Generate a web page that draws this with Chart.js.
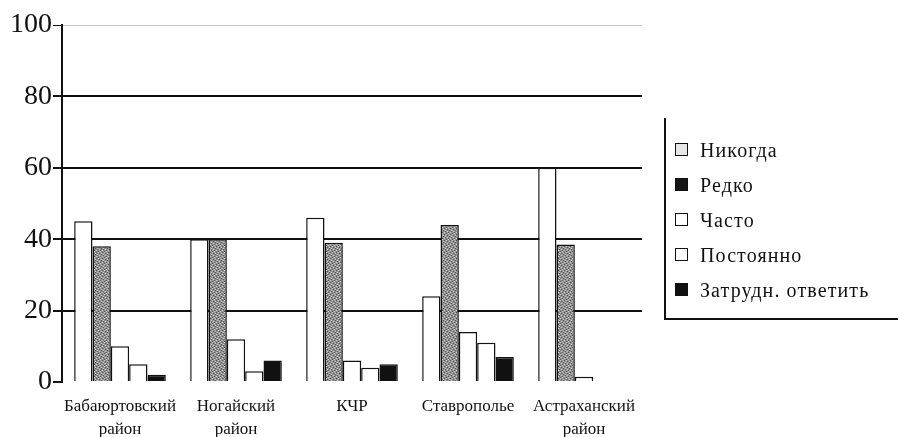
<!DOCTYPE html>
<html>
<head>
<meta charset="utf-8">
<script src="https://cdn.jsdelivr.net/npm/chart.js@4/dist/chart.umd.min.js"></script>
<style>
  html, body { margin: 0; padding: 0; background: #fff; }
  #wrap { position: relative; width: 903px; height: 437px; overflow: hidden; background: #fff; }
  #c { position: absolute; left: 0; top: 0; }
  #legend {
    position: absolute; left: 664px; top: 118px; width: 234px; height: 202px;
    border-left: 2px solid #111; border-bottom: 2px solid #111; box-sizing: border-box;
    font-family: "Liberation Serif", "DejaVu Serif", serif; font-size: 20px; color: #111;
    letter-spacing: 1.1px;
  }
  .item { position: absolute; left: 0; height: 24px; line-height: 24px; white-space: nowrap; }
  .box { position: absolute; left: 9px; top: 5px; width: 11px; height: 11px; border: 1.5px solid #111; box-sizing: content-box; }
  .txt { position: absolute; left: 34px; top: 0; }
</style>
</head>
<body>
<div id="wrap">
  <canvas id="c" width="903" height="437"></canvas>
  <div id="legend"></div>
</div>
<script>
const categories = [['Бабаюртовский', 'район'], ['Ногайский', 'район'], 'КЧР', 'Ставрополье', ['Астраханский', 'район']];
const seriesNames = ['Никогда', 'Редко', 'Часто', 'Постоянно', 'Затрудн. ответить'];
const nikogda    = [45, 40, 46, 24, 60];
const redko      = [38, 40, 39, 44, 38.5];
const chasto     = [10, 12, 6, 14, 1.5];
const postoyanno = [5, 3, 4, 11, 0];
const zatrudn    = [2, 6, 5, 7, 0];
const yTicks     = [0, 20, 40, 60, 80, 100];

// stipple pattern for "Редко"
function makePattern() {
  const p = document.createElement('canvas');
  p.width = 6; p.height = 6;
  const g = p.getContext('2d');
  g.fillStyle = '#929292'; g.fillRect(0, 0, 6, 6);
  const dark = [[0,0],[3,1],[1,3],[4,4],[5,2],[2,5]];
  const light = [[2,0],[5,1],[0,4],[3,3],[4,5],[1,2]];
  g.fillStyle = '#505050'; dark.forEach(([x,y]) => g.fillRect(x, y, 1, 1));
  g.fillStyle = '#cfcfcf'; light.forEach(([x,y]) => g.fillRect(x, y, 1, 1));
  return g.createPattern(p, 'repeat');
}
const ctx = document.getElementById('c').getContext('2d');
const stipple = makePattern();

const fills = ['#ffffff', stipple, '#ffffff', '#ffffff', '#111111'];
const legendFills = ['#e6e6e6', '#151515', '#ffffff', '#ffffff', '#111111'];
const values = [nikogda, redko, chasto, postoyanno, zatrudn];

const datasets = seriesNames.map((name, i) => ({
  label: name,
  data: values[i],
  backgroundColor: fills[i],
  borderColor: '#111',
  borderWidth: 1.5,
  borderSkipped: 'bottom',
  barPercentage: 1.0,
  categoryPercentage: 0.79
}));

new Chart(ctx, {
  type: 'bar',
  data: { labels: categories, datasets },
  options: {
    responsive: false,
    animation: false,
    layout: { padding: { left: 0, right: 261, top: 25, bottom: 0 } },
    plugins: { legend: { display: false }, tooltip: { enabled: false } },
    scales: {
      x: {
        grid: { display: false },
        border: { display: false },
        ticks: {
          color: '#111',
          font: { family: '"Liberation Serif", serif', size: 17, lineHeight: 1.35 },
          padding: 5,
          maxRotation: 0,
          autoSkip: false
        },
        afterFit: (s) => { s.height = 55; }
      },
      y: {
        min: 0, max: 100,
        afterBuildTicks: (s) => { s.ticks = yTicks.map(v => ({ value: v })); },
        border: { display: true, color: '#111', width: 2 },
        grid: {
          color: (c) => c.tick.value === 0 ? 'rgba(0,0,0,0)' : (c.tick.value === 100 ? 'rgba(0,0,0,0.22)' : '#111'),
          lineWidth: (c) => c.tick.value === 100 ? 1 : 2,
          tickColor: '#111',
          tickLength: 9,
          drawTicks: true
        },
        ticks: {
          color: '#111',
          font: { family: '"Liberation Serif", serif', size: 28 },
          padding: 1
        },
        afterFit: (s) => { s.width = 62; }
      }
    }
  }
});

// HTML legend
const lg = document.getElementById('legend');
const rowTops = [20, 55, 90, 125, 160];
seriesNames.forEach((name, i) => {
  const it = document.createElement('div');
  it.className = 'item';
  it.style.top = rowTops[i] + 'px';
  const b = document.createElement('span');
  b.className = 'box';
  b.style.background = legendFills[i];
  const t = document.createElement('span');
  t.className = 'txt';
  t.textContent = name;
  it.appendChild(b); it.appendChild(t);
  lg.appendChild(it);
});
</script>
</body>
</html>
